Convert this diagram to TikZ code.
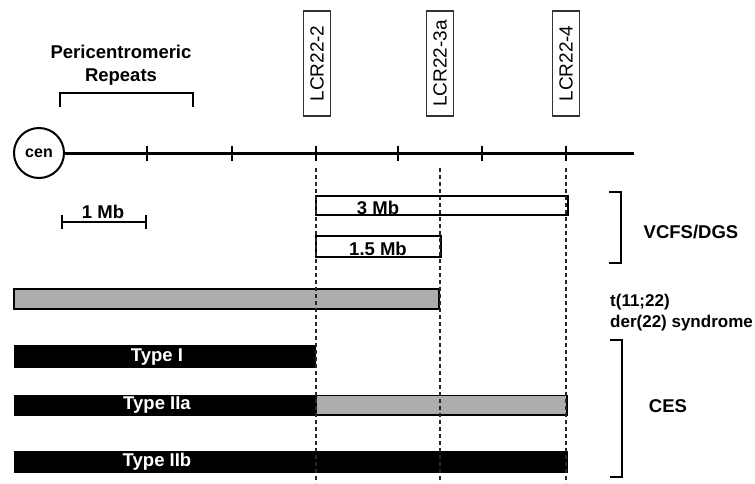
\documentclass[tikz,border=0pt]{standalone}
\usepackage{fontspec}
\setmainfont{Liberation Sans}
\usetikzlibrary{positioning,calc}
\definecolor{delgray}{HTML}{ADADAD}
\tikzset{
  lbl/.style={font=\fontsize{18.5}{23}\selectfont\bfseries, inner sep=0pt},
  lcrbox/.style={draw=black!80, line width=1.3pt, rotate=90, minimum width=105pt, minimum height=27pt, inner sep=0pt, font=\fontsize{19}{20}\selectfont},
  cenbox/.style={circle, draw, line width=2pt, minimum size=50pt, inner sep=0pt, font=\fontsize{16}{17}\selectfont\bfseries},
  chromline/.style={line width=3pt},
  axtick/.style={line width=1.5pt},
  bracket/.style={line width=2.4pt},
  guide/.style={dash pattern=on 4pt off 3pt, line width=1.1pt, draw=black!85},
  openbar/.style={draw, line width=1.8pt, fill=white},
  greybar/.style={draw, line width=1.8pt, fill=delgray},
  solidbar/.style={fill=black},
  typelabel/.style={lbl, text=white}
}
\begin{document}
\begin{tikzpicture}[x=1pt, y=-1pt]
  \useasboundingbox (0,0) rectangle (755,483);

  % chromosome 22 axis
  \node[cenbox] (cen) at (39,153) {cen};
  \coordinate (qter) at (634,153);
  \draw[chromline] (cen) -- (qter);
  \foreach \x in {147,232,316,398,482,566}
    \draw[axtick] (\x,145.5) -- (\x,160.5);

  % low copy repeats
  \node[lcrbox] (lcr2) at (317,63.5) {LCR22-2};
  \node[lcrbox] (lcr3a) at (440,63.5) {LCR22-3a};
  \node[lcrbox] (lcr4) at (566,63.5) {LCR22-4};

  % pericentromeric repeats
  \node[lbl, align=center] (peri) at (121,65) {Pericentromeric\\Repeats};
  \coordinate (periL) at (60,93);
  \coordinate (periR) at (193,93);
  \draw[bracket] ([yshift=-14pt]periL) -- (periL) -- (periR) -- ([yshift=-14pt]periR);

  % scale bar
  \coordinate (mbL) at (62,222);
  \coordinate (mbR) at (146,222);
  \draw[bracket] (mbL) -- (mbR);
  \draw[axtick] ([yshift=7pt]mbL) -- ([yshift=-7pt]mbL);
  \draw[axtick] ([yshift=7pt]mbR) -- ([yshift=-7pt]mbR);
  \node[lbl] (onemb) at (103,212) {1 Mb};

  % deletions
  \draw[openbar] (316,196) rectangle (568,215);
  \draw[openbar] (316,236) rectangle (441,257);
  \draw[greybar] (14,289) rectangle (439,309);
  \fill[solidbar] (14,345) rectangle (316,368);
  \fill[solidbar] (14,395) rectangle (316,416);
  \draw[greybar] (316,395.5) rectangle (567,415);
  \fill[solidbar] (14,451) rectangle (568,473);

  % guide lines from the LCRs
  \coordinate (g2) at (316,168);
  \coordinate (g3a) at (440,168);
  \coordinate (g4) at (566,168);
  \coordinate (gbot) at (0,483);
  \foreach \g in {g2,g3a,g4}
    \draw[guide] (\g) -- (\g |- gbot);

  % bar labels
  \node[lbl] (three) at (378,208) {3 Mb};
  \node[lbl] (onefive) at (378,249) {1.5 Mb};
  \node[typelabel] (typeI) at (157,357) {Type I};
  \node[typelabel] (typeIIa) at (157,405.5) {Type IIa};
  \node[typelabel] (typeIIb) at (157,462) {Type IIb};

  % syndromes
  \coordinate (vcfsT) at (621,192);
  \coordinate (vcfsB) at (621,263);
  \draw[bracket] ([xshift=-12pt]vcfsT) -- (vcfsT) -- (vcfsB) -- ([xshift=-12pt]vcfsB);
  \node[lbl] (vcfs) at (691,232) {VCFS/DGS};
  \node[lbl, font=\fontsize{17}{21}\selectfont\bfseries, align=left, anchor=west] (der) at (610,312.5) {t(11;22)\\der(22) syndrome};
  \coordinate (cesT) at (622,340);
  \coordinate (cesB) at (622,477);
  \draw[bracket] ([xshift=-12pt]cesT) -- (cesT) -- (cesB) -- ([xshift=-12pt]cesB);
  \node[lbl] (ces) at (668,406) {CES};
\end{tikzpicture}
\end{document}
